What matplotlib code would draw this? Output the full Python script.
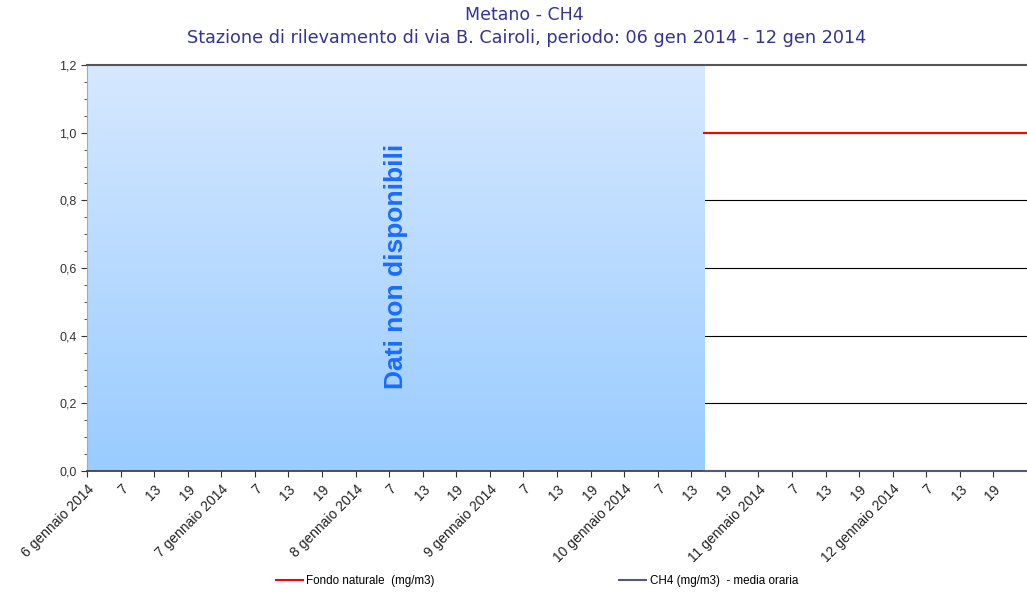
import numpy as np
import matplotlib.pyplot as plt
from matplotlib.lines import Line2D

# hours counted from 01:00 of 6 Jan 2014, one tick every 6 hours
days = ['6 gennaio 2014', '7 gennaio 2014', '8 gennaio 2014', '9 gennaio 2014',
        '10 gennaio 2014', '11 gennaio 2014', '12 gennaio 2014']
hour_labels = ['7', '13', '19']
nodata_end = 110.3          # no data before this hour
period_end = 168
fondo = [1.0, 1.0]          # Fondo naturale (mg/m3)
ch4 = [0.0, 0.0]            # CH4 media oraria (mg/m3)

plt.rcParams['font.family'] = ['Liberation Sans', 'DejaVu Sans']

fig = plt.figure(figsize=(10.27, 5.93), dpi=100)
ax = fig.add_axes([87/1027, 1 - 471/593, 940/1027, 406/593])

ticks = np.arange(0, period_end, 6)
labels = []
for d in days:
    labels.append(d)
    labels.extend(hour_labels)

ax.set_xlim(0, period_end)
ax.set_ylim(0, 1.2)

# blue gradient for the missing data part
grad = np.linspace(0, 1, 256).reshape(-1, 1, 1)
top = np.array([0.84, 0.91, 1.0])
bot = np.array([0.60, 0.80, 1.0])
img = bot + (top - bot) * grad
ax.imshow(img, origin='lower', aspect='auto',
          extent=[0, nodata_end, 0, 1.2], zorder=1)
ax.text(nodata_end / 2, 0.605, 'Dati non disponibili', rotation=90, ha='center',
        va='center', color='#1a6cff', fontsize=19, fontweight='bold', zorder=3)

for y in [0.2, 0.4, 0.6, 0.8, 1.0]:
    ax.axhline(y, color='black', lw=0.8, zorder=0)
ax.axhline(1.2, color='#555555', lw=1.5, zorder=4, clip_on=False)

ax.plot([nodata_end, period_end], fondo, color='#ff0000', lw=1.5, zorder=5)
ax.plot([nodata_end, period_end], ch4, color='#555588', lw=1.5, zorder=5, clip_on=False)

ax.set_xticks(ticks)
ax.set_xticklabels(labels, rotation=45, ha='right', rotation_mode='anchor',
                   fontsize=10, color='#222222')
yt = np.arange(0, 1.21, 0.2)
ax.set_yticks(yt)
ax.set_yticklabels([('%.1f' % v).replace('.', ',') for v in yt], fontsize=9,
                   color='#333333')
ax.set_yticks(np.arange(0, 1.21, 0.05), minor=True)
ax.tick_params(axis='y', which='major', length=4, color='#333333')
ax.tick_params(axis='y', which='minor', length=2, color='#333333')
ax.tick_params(axis='x', length=4, color='#333333', pad=4)

ax.spines['top'].set_visible(False)
ax.spines['right'].set_visible(False)
ax.spines['left'].set_color('#aaaaaa')
ax.spines['bottom'].set_color('#333333')
ax.spines['bottom'].set_linewidth(1.2)

fig.text(524/1027, 1 - 15/593, 'Metano - CH4', ha='center', va='center',
         color='#333399', fontsize=12.5, family=['DejaVu Sans'])
fig.text(527/1027, 1 - 38/593,
         'Stazione di rilevamento di via B. Cairoli, periodo: 06 gen 2014 - 12 gen 2014',
         ha='center', va='center', color='#333399', fontsize=12.7, family=['DejaVu Sans'])

h1 = Line2D([], [], color='#ff0000', lw=1.5)
h2 = Line2D([], [], color='#555588', lw=1.5)
fig.legend([h1], ['Fondo naturale  (mg/m3)'], loc='center left',
           bbox_to_anchor=(270/1027, 1 - 581/593), frameon=False, fontsize=8.4,
           handlelength=2.3, handletextpad=0.25, borderpad=0)
fig.legend([h2], ['CH4 (mg/m3)  - media oraria'], loc='center left',
           bbox_to_anchor=(613/1027, 1 - 581/593), frameon=False, fontsize=8.4,
           handlelength=2.3, handletextpad=0.35, borderpad=0)

fig.savefig('out.png', dpi=100)
